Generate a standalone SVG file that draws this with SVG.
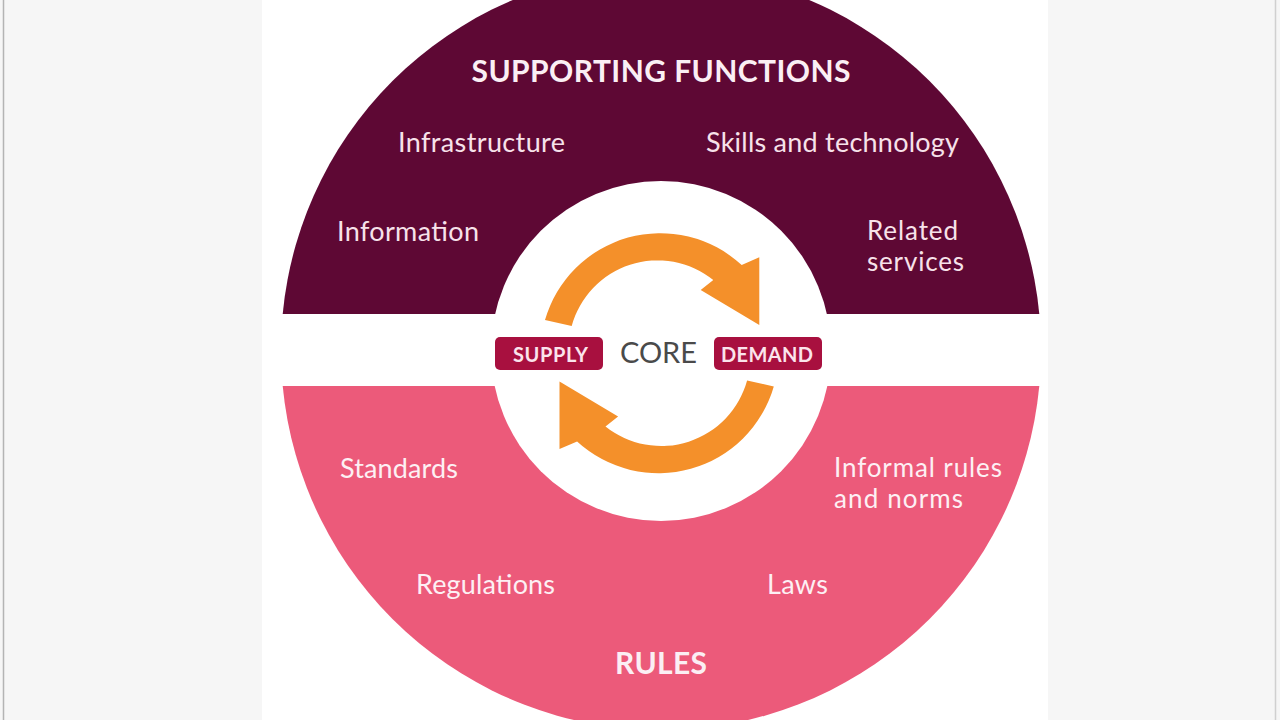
<svg xmlns="http://www.w3.org/2000/svg" width="1280" height="720" viewBox="0 0 1280 720">
  <defs>
    <style>
      .lbl { font-family: Lato, "Open Sans", "Liberation Sans", sans-serif; font-size: 27px; fill: #F7E2EA; }
      .lblp { font-family: Lato, "Open Sans", "Liberation Sans", sans-serif; font-size: 27px; fill: #FDF0F4; }
      .sm { font-size: 26px; }
      .head { font-family: Lato, "Open Sans", "Liberation Sans", sans-serif; font-size: 30px; font-weight: bold; fill: #FBEFF4; }
      .tag { font-family: Lato, "Open Sans", "Liberation Sans", sans-serif; font-size: 20px; font-weight: bold; fill: #FBE4EC; }
      .tagbox { fill: #A8103F; }
      .arrow { fill: #F4902A; }
      .core { font-family: Lato, "Open Sans", "Liberation Sans", sans-serif; font-size: 29px; fill: #4A4A4A; }
    </style>
  </defs>

  <!-- page background -->
  <rect x="0" y="0" width="1280" height="720" fill="#F6F6F6"/>
  <rect x="262" y="0" width="786" height="720" fill="#FFFFFF"/>
  <line x1="3.5" y1="0" x2="3.5" y2="720" stroke="#B4B4B4" stroke-width="1.5"/>
  <line x1="1275.5" y1="0" x2="1275.5" y2="720" stroke="#D0D0D0" stroke-width="1.5"/>

  <!-- outer ring halves -->
  <g id="supporting-functions">
    <path d="M 282.7 314 A 380 380 0 0 1 1039.3 314 Z" fill="#5E0834"/>
    <text class="head" x="661" y="82" text-anchor="middle" textLength="379">SUPPORTING FUNCTIONS</text>
  </g>
  <g id="rules">
    <path d="M 282.7 386 A 380 380 0 0 0 1039.3 386 Z" fill="#EC5A7A"/>
    <text class="head" x="661" y="674" text-anchor="middle" textLength="92">RULES</text>
  </g>

  <!-- inner core circle -->
  <g id="core">
    <circle cx="661" cy="351" r="170" fill="#FFFFFF"/>
    <text class="core" x="658.5" y="363" text-anchor="middle" textLength="77">CORE</text>
  </g>

  <g id="infrastructure"><text class="lbl" x="481.5" y="152" text-anchor="middle" textLength="167">Infrastructure</text></g>
  <g id="skills"><text class="lbl" x="832.5" y="152" text-anchor="middle" textLength="253">Skills and technology</text></g>
  <g id="information"><text class="lbl" x="408" y="241" text-anchor="middle" textLength="142">Information</text></g>
  <g id="related-services">
    <text class="lbl sm" x="867" y="240" textLength="91">Related</text>
    <text class="lbl sm" x="867" y="271" textLength="97">services</text>
  </g>
  <g id="standards"><text class="lblp" x="399" y="478" text-anchor="middle" textLength="118">Standards</text></g>
  <g id="informal-rules">
    <text class="lblp sm" x="834" y="477" textLength="168">Informal rules</text>
    <text class="lblp sm" x="834" y="508" textLength="129">and norms</text>
  </g>
  <g id="regulations"><text class="lblp" x="485.5" y="594" text-anchor="middle" textLength="139">Regulations</text></g>
  <g id="laws"><text class="lblp" x="797.5" y="594" text-anchor="middle" textLength="61">Laws</text></g>

  <g id="supply">
    <rect class="tagbox" x="495" y="337" width="108" height="33" rx="5"/>
    <text class="tag" x="550.5" y="362" text-anchor="middle" textLength="75">SUPPLY</text>
  </g>
  <g id="demand">
    <rect class="tagbox" x="714" y="337" width="108" height="33" rx="5"/>
    <text class="tag" x="767" y="362" text-anchor="middle" textLength="92">DEMAND</text>
  </g>

  <!-- cycle arrows -->
  <g id="connectors">
    <path id="arrow-top" class="arrow" d="M 545 320 A 120 120 0 0 1 741.7 265 L 759.3 257.3 L 759.3 325 L 700.7 290 L 713.3 280 A 89 89 0 0 0 571.7 326 Z"/>
    <path id="arrow-bottom" class="arrow" transform="rotate(180 659.4 353.2)" d="M 545 320 A 120 120 0 0 1 741.7 265 L 759.3 257.3 L 759.3 325 L 700.7 290 L 713.3 280 A 89 89 0 0 0 571.7 326 Z"/>
  </g>
</svg>
